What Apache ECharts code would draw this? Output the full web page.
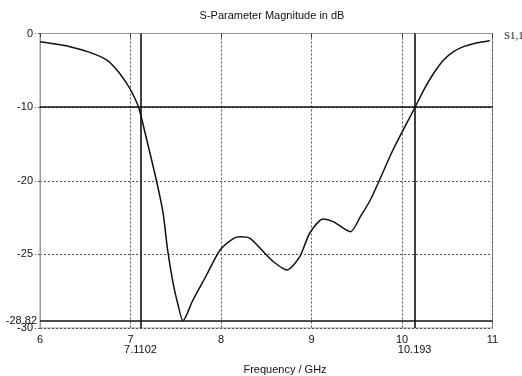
<!DOCTYPE html>
<html>
<head>
<meta charset="utf-8">
<script src="https://cdn.jsdelivr.net/npm/echarts@6/dist/echarts.min.js"></script>
<style>
html,body{margin:0;padding:0;background:#fff;}
#c{width:522px;height:376px;}
</style>
</head>
<body>
<div id="c"></div>
<script>
// Frequency (GHz) of each sampled point of the S1,1 curve
var freq = [6.00, 6.11, 6.33, 6.55, 6.74, 6.85, 6.97, 7.03, 7.09, 7.18, 7.29, 7.36, 7.41, 7.47, 7.52, 7.58,
            7.69, 7.84, 7.99, 8.14, 8.21, 8.32, 8.45, 8.58, 8.73, 8.87, 8.98, 9.13, 9.24, 9.43, 9.54,
            9.65, 9.76, 9.90, 10.14, 10.24, 10.35, 10.46, 10.57, 10.68, 10.83, 10.97];
// Curve level, in the plot's (evenly spaced) vertical axis units
var s11 = [-0.84, -1.00, -1.34, -1.92, -2.70, -3.72, -5.25, -6.26, -7.52, -10.85, -15.13, -18.28, -22.05, -25.41, -27.45, -29.26,
           -27.15, -24.60, -22.05, -20.86, -20.70, -20.86, -22.05, -23.25, -24.09, -22.74, -20.35, -18.90, -19.17, -20.19, -18.66,
           -16.96, -14.75, -11.87, -7.59, -5.76, -4.05, -2.70, -1.85, -1.34, -0.94, -0.73];
// Vertical-axis tick labels, bottom to top (as printed on the chart)
var yTickLabels = ['-30', '-25', '-20', '-10', '0'];
var xTickLabels = ['6', '7', '8', '9', '10', '11'];
// Markers: positions on the axes and their printed labels
var markerFreqs = [7.11, 10.14];
var markerFreqLabels = ['7.1102', '10.193'];
var markerLevels = [-7.5, -29.29];
var markerLevelLabels = ['', '-28.82'];

var FONT = 'Liberation Sans, Arial, sans-serif';
var chart = echarts.init(document.getElementById('c'), null, {renderer: 'canvas'});

var markData = [];
markerFreqs.forEach(function (f, i) {
  markData.push({xAxis: f, label: {show: true, position: 'start', formatter: markerFreqLabels[i], distance: 16}});
});
markerLevels.forEach(function (v, i) {
  markData.push({yAxis: v, label: {show: markerLevelLabels[i] !== '', position: 'start', formatter: markerLevelLabels[i], distance: 3}});
});

var option = {
  animation: false,
  backgroundColor: '#fff',
  title: [
    {text: 'S-Parameter Magnitude in dB', left: 267, top: 5, textAlign: 'center',
     textStyle: {fontFamily: FONT, fontSize: 11, fontWeight: 'normal', color: '#111'}},
    {text: 'Frequency / GHz', left: 280, top: 359, textAlign: 'center',
     textStyle: {fontFamily: FONT, fontSize: 11, fontWeight: 'normal', color: '#111'}},
    {text: 'S1,1', left: 499, top: 26,
     textStyle: {fontFamily: 'Liberation Serif, serif', fontSize: 11, fontWeight: 'normal', color: '#222'}}
  ],
  grid: {left: 40, right: 29.5, top: 33.5, bottom: 48, show: true, borderColor: '#999', borderWidth: 1, containLabel: false},
  xAxis: {
    type: 'value', min: 6, max: 11, interval: 1,
    axisLine: {show: true, lineStyle: {color: '#999', width: 1}},
    axisTick: {show: true, length: 4, lineStyle: {color: '#333'}},
    axisLabel: {fontFamily: FONT, fontSize: 11, color: '#111', margin: 6,
      formatter: function (v) { return xTickLabels[Math.round(v - 6)]; }},
    splitLine: {show: true, lineStyle: {color: '#555', type: [2, 2], width: 1}}
  },
  yAxis: {
    type: 'value', min: -30, max: 0, interval: 7.5,
    axisLine: {show: true, lineStyle: {color: '#999', width: 1}},
    axisTick: {show: true, length: 5, lineStyle: {color: '#555', type: [2, 2]}},
    axisLabel: {fontFamily: FONT, fontSize: 11, color: '#111', margin: 7,
      formatter: function (v) { return yTickLabels[Math.round((v + 30) / 7.5)]; }},
    splitLine: {show: true, lineStyle: {color: '#555', type: [2, 2], width: 1}}
  },
  series: [{
    type: 'line',
    data: freq.map(function (f, i) { return [f, s11[i]]; }),
    smooth: 0.25,
    showSymbol: false,
    lineStyle: {color: '#111', width: 1.5},
    markLine: {
      silent: true,
      symbol: ['none', 'none'],
      lineStyle: {color: '#111', width: 1.6, type: 'solid'},
      label: {fontFamily: FONT, fontSize: 11, color: '#111'},
      data: markData
    }
  }]
};
chart.setOption(option);
</script>
</body>
</html>
